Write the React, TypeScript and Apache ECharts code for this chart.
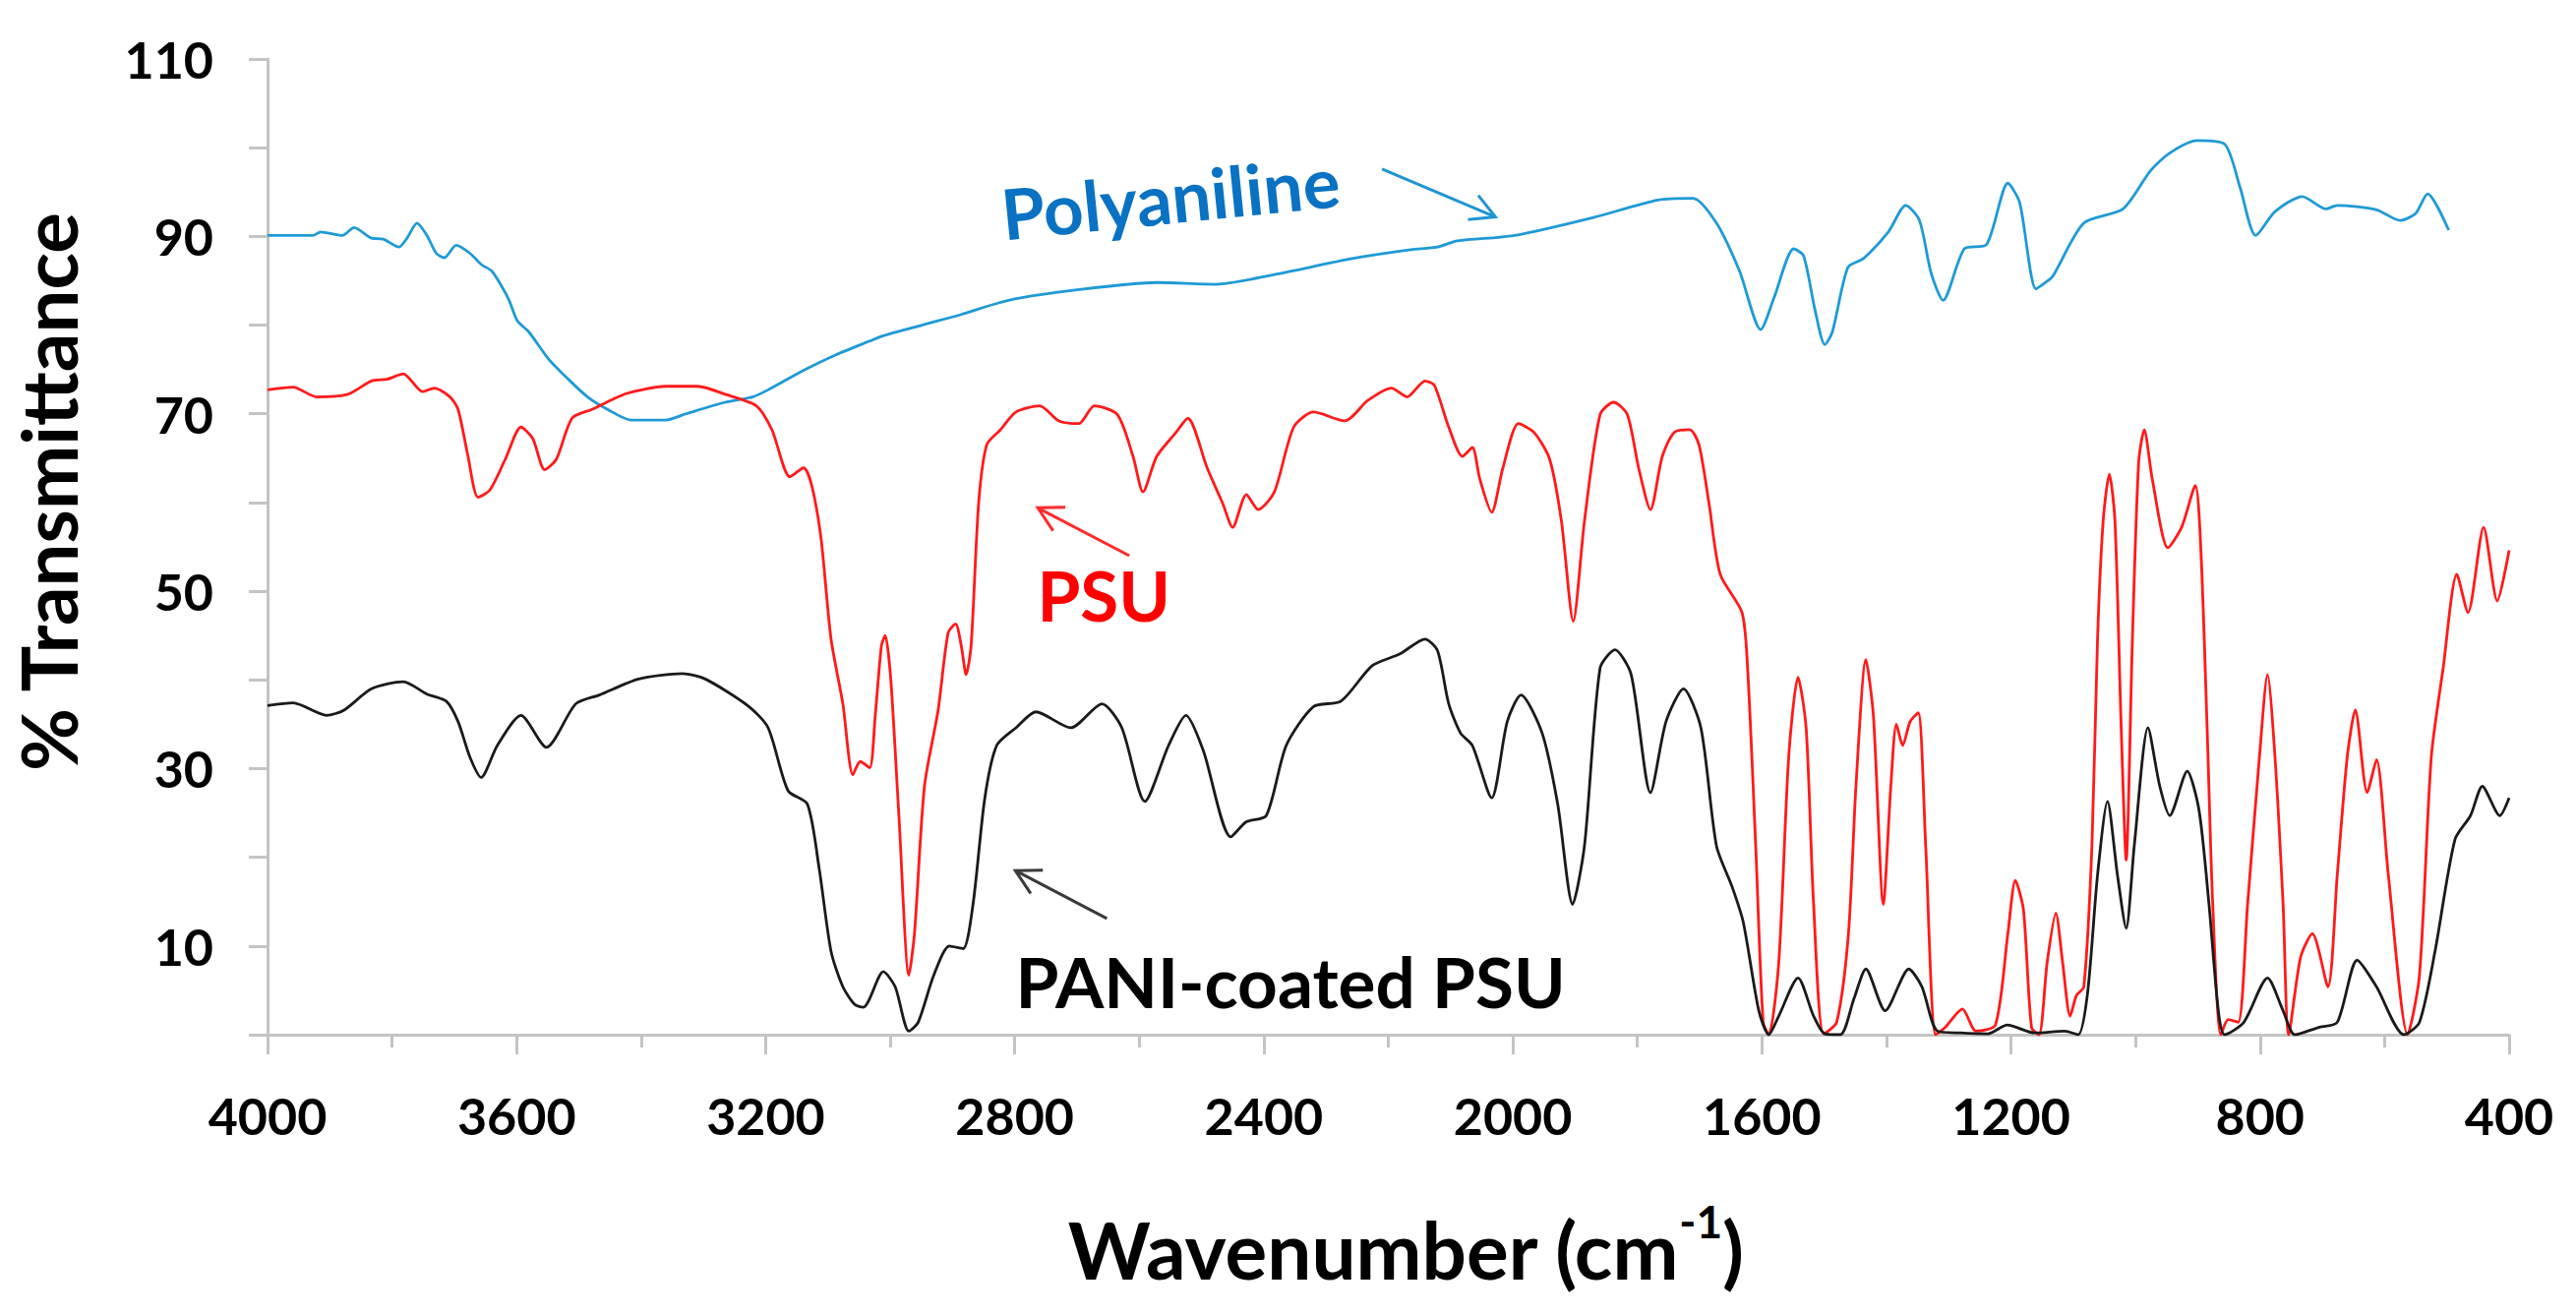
import React, { useEffect, useRef } from "react";
import * as echarts from "echarts";

// ---- Data (wavenumber cm^-1, % transmittance) ----
const polyWn = [4000, 3960, 3927, 3915, 3880, 3861, 3833, 3814, 3789, 3776, 3760, 3744, 3729, 3716, 3697, 3675, 3656, 3640, 3625, 3612, 3599, 3580, 3549, 3517, 3486, 3454, 3416, 3360, 3328, 3265, 3221, 3196, 3139, 3089, 3033, 3011, 2949, 2886, 2810, 2697, 2572, 2477, 2383, 2258, 2164, 2121, 2089, 1997, 1872, 1767, 1711, 1673, 1636, 1602, 1580, 1549, 1533, 1515, 1499, 1487, 1462, 1437, 1397, 1369, 1347, 1328, 1309, 1275, 1239, 1205, 1186, 1160, 1145, 1133, 1083, 1020, 976, 945, 901, 857, 832, 807, 776, 732, 694, 676, 613, 575, 550, 531, 497];
const polyT = [90.1, 90.1, 90.1, 90.5, 90.1, 91.0, 89.8, 89.7, 88.8, 89.8, 91.5, 90.1, 88.1, 87.6, 89.0, 88.1, 86.8, 86.1, 84.5, 82.8, 80.5, 79.2, 76.2, 73.9, 71.9, 70.5, 69.3, 69.3, 70.0, 71.3, 71.9, 72.7, 74.9, 76.6, 78.2, 78.8, 80.0, 81.2, 82.8, 84.0, 84.8, 84.6, 85.7, 87.5, 88.5, 88.8, 89.5, 90.1, 92.1, 94.1, 94.3, 91.5, 86.1, 79.5, 83.2, 88.6, 87.8, 81.8, 77.8, 79.2, 86.5, 87.5, 90.5, 93.5, 91.8, 85.8, 82.8, 88.6, 89.1, 96.0, 93.8, 84.1, 84.8, 85.5, 91.5, 93.1, 97.4, 99.4, 100.8, 100.4, 95.5, 90.1, 92.8, 94.5, 93.1, 93.5, 93.0, 91.8, 92.6, 94.8, 90.7];

const psuWn = [4000, 3959, 3921, 3871, 3833, 3808, 3782, 3751, 3732, 3707, 3694, 3678, 3662, 3643, 3618, 3593, 3574, 3555, 3536, 3511, 3479, 3423, 3360, 3309, 3265, 3215, 3190, 3161, 3139, 3126, 3111, 3095, 3076, 3060, 3048, 3033, 3024, 3014, 3008, 2999, 2986, 2970, 2961, 2945, 2923, 2907, 2895, 2886, 2878, 2870, 2858, 2845, 2823, 2798, 2760, 2729, 2697, 2672, 2635, 2610, 2594, 2572, 2541, 2522, 2491, 2466, 2450, 2428, 2409, 2383, 2352, 2320, 2270, 2233, 2195, 2170, 2141, 2126, 2103, 2081, 2065, 2053, 2034, 2016, 1991, 1966, 1941, 1922, 1903, 1885, 1860, 1838, 1816, 1798, 1779, 1760, 1741, 1716, 1701, 1685, 1667, 1632, 1623, 1610, 1598, 1589, 1573, 1557, 1542, 1529, 1517, 1501, 1480, 1461, 1449, 1433, 1421, 1405, 1393, 1384, 1374, 1362, 1349, 1337, 1321, 1306, 1278, 1256, 1225, 1205, 1193, 1180, 1167, 1155, 1142, 1128, 1117, 1105, 1095, 1083, 1070, 1061, 1052, 1042, 1033, 1023, 1015, 1005, 995, 986, 973, 948, 926, 904, 895, 885, 876, 863, 851, 835, 820, 801, 788, 776, 763, 754, 735, 716, 691, 676, 660, 647, 628, 613, 594, 563, 544, 525, 506, 484, 466, 441, 419, 400];
const psuT = [72.7, 73.0, 71.9, 72.2, 73.7, 73.9, 74.5, 72.5, 72.9, 71.9, 70.5, 65.2, 60.6, 61.4, 64.9, 68.5, 67.2, 63.7, 64.9, 69.5, 70.5, 72.3, 73.1, 73.1, 72.2, 70.9, 68.2, 62.9, 63.9, 61.9, 55.9, 44.6, 37.3, 29.3, 30.8, 30.1, 36.0, 43.9, 45.0, 40.0, 24.7, 6.7, 11.4, 28.0, 36.6, 45.3, 46.3, 43.9, 40.6, 43.9, 59.9, 66.5, 68.2, 70.2, 70.9, 69.2, 68.9, 70.9, 69.9, 65.2, 61.2, 65.2, 67.9, 69.5, 63.9, 59.9, 57.2, 60.9, 59.2, 61.2, 68.5, 70.2, 69.2, 71.5, 72.9, 71.9, 73.7, 73.2, 68.5, 65.2, 66.2, 62.6, 58.9, 63.9, 68.9, 67.9, 64.9, 57.9, 46.6, 57.9, 69.9, 71.3, 69.9, 63.9, 59.2, 65.2, 67.9, 68.2, 66.5, 59.9, 51.9, 47.6, 41.3, 21.3, 1.4, 0, 8.1, 31.3, 40.3, 34.6, 14.7, 0.1, 1.4, 11.4, 28.0, 42.3, 36.0, 14.7, 28.0, 35.0, 32.6, 35.3, 36.3, 21.3, 0, 0.8, 2.9, 0.4, 1.1, 11.4, 17.4, 14.1, 0.8, 0, 8.1, 13.7, 8.1, 2.1, 4.4, 5.4, 21.3, 44.6, 57.9, 63.2, 57.9, 34.6, 19.7, 44.6, 64.5, 68.2, 62.6, 54.9, 57.2, 61.9, 54.6, 34.6, 14.7, 0, 1.7, 1.4, 14.7, 31.3, 40.6, 31.3, 14.7, 0, 8.7, 11.4, 5.4, 18.0, 31.3, 36.6, 27.3, 31.0, 18.0, 0, 6.7, 31.3, 41.3, 51.9, 47.6, 57.2, 48.9, 54.6];

const paniWn = [4000, 3959, 3905, 3877, 3833, 3782, 3744, 3713, 3694, 3675, 3657, 3631, 3593, 3552, 3505, 3467, 3404, 3334, 3297, 3227, 3196, 3164, 3133, 3114, 3095, 3076, 3057, 3043, 3011, 2992, 2970, 2955, 2930, 2905, 2883, 2867, 2848, 2829, 2798, 2766, 2710, 2660, 2628, 2591, 2553, 2525, 2497, 2453, 2428, 2396, 2364, 2320, 2276, 2226, 2182, 2141, 2121, 2103, 2084, 2065, 2034, 2009, 1987, 1953, 1928, 1904, 1885, 1860, 1836, 1810, 1779, 1754, 1726, 1698, 1673, 1648, 1630, 1605, 1589, 1573, 1542, 1517, 1499, 1474, 1452, 1433, 1402, 1364, 1343, 1318, 1281, 1237, 1206, 1162, 1114, 1092, 1077, 1061, 1045, 1029, 1015, 1002, 980, 961, 945, 917, 898, 882, 867, 857, 826, 788, 763, 744, 707, 676, 644, 613, 569, 544, 519, 487, 462, 443, 415, 400];
const paniT = [37.1, 37.4, 36.0, 36.6, 39.0, 39.8, 38.4, 37.6, 35.3, 31.3, 29.0, 32.6, 36.0, 32.4, 37.3, 38.3, 40.1, 40.7, 40.1, 37.0, 34.6, 27.5, 26.0, 18.7, 9.4, 5.4, 3.4, 3.1, 7.1, 5.4, 0.4, 1.4, 6.7, 10.0, 9.7, 14.7, 26.7, 32.6, 34.6, 36.4, 34.6, 37.3, 34.6, 26.3, 32.6, 36.0, 32.0, 22.3, 24.0, 24.7, 32.6, 37.0, 37.6, 41.6, 42.9, 44.6, 43.3, 37.3, 34.0, 32.6, 26.7, 35.3, 38.3, 34.0, 26.0, 14.7, 21.3, 41.3, 43.4, 40.6, 27.3, 35.3, 39.0, 34.6, 21.3, 16.7, 12.7, 2.7, 0, 2.1, 6.4, 2.1, 0.1, 0, 4.1, 7.4, 2.7, 7.4, 5.4, 0.4, 0.2, 0.1, 1.1, 0.2, 0.4, 0, 4.7, 18.0, 26.3, 18.0, 12.0, 21.3, 34.6, 28.0, 24.7, 29.7, 25.3, 14.7, 2.7, 0, 1.4, 6.4, 2.7, 0, 0.8, 1.4, 8.4, 5.4, 0, 1.4, 9.4, 22.0, 24.7, 28.0, 24.7, 26.7];

const seriesNames = ["Polyaniline", "PSU", "PANI-coated PSU"];
const seriesColors = ["#1f9ad6", "#ff1a1a", "#1a1a1a"];

const FONT = "Lato, 'Open Sans', 'Liberation Sans', sans-serif";
const AXIS_GRAY = "#c4c4c4";

const zip = (xs: number[], ys: number[]) => xs.map((x, i) => [x, ys[i]]);

export default function App() {
  const ref = useRef<HTMLDivElement>(null);

  useEffect(() => {
    document.body.style.margin = "0";
    document.body.style.overflow = "hidden";
    const chart = echarts.init(ref.current as HTMLDivElement, null, { renderer: "svg" });

    const lineSeries = [zip(polyWn, polyT), zip(psuWn, psuT), zip(paniWn, paniT)].map((d, i) => ({
      name: seriesNames[i],
      type: "line",
      data: d,
      showSymbol: false,
      symbol: "none",
      smooth: 0.25,
      lineStyle: { color: seriesColors[i], width: 2.8 },
      itemStyle: { color: seriesColors[i] },
    }));

    chart.setOption({
      animation: false,
      backgroundColor: "#ffffff",
      grid: { left: 272, top: 60, width: 2279, height: 992 },
      xAxis: {
        type: "value",
        min: 400,
        max: 4000,
        interval: 400,
        inverse: true,
        axisLine: { show: true, lineStyle: { color: AXIS_GRAY, width: 3 } },
        axisTick: { show: true, length: 20, lineStyle: { color: AXIS_GRAY, width: 3 } },
        minorTick: { show: true, splitNumber: 2, length: 13, lineStyle: { color: AXIS_GRAY, width: 3 } },
        splitLine: { show: false },
        minorSplitLine: { show: false },
        axisLabel: {
          fontFamily: FONT,
          fontSize: 52,
          fontWeight: "bold",
          color: "#000",
          margin: 56,
          formatter: (v: number) => String(Math.round(v)),
        },
      },
      yAxis: {
        type: "value",
        min: 0,
        max: 110,
        interval: 10,
        axisLine: { show: true, lineStyle: { color: AXIS_GRAY, width: 3 } },
        axisTick: { show: true, length: 19, lineStyle: { color: AXIS_GRAY, width: 3 } },
        splitLine: { show: false },
        axisLabel: {
          fontFamily: FONT,
          fontSize: 52,
          fontWeight: "bold",
          color: "#000",
          margin: 55,
          formatter: (v: number) => (Math.round(v) % 20 === 10 ? String(Math.round(v)) : ""),
        },
      },
      series: lineSeries,
    });

    const px = (p: number[]) => chart.convertToPixel({ gridIndex: 0 }, p) as number[];

    const arrow = (from: number[], to: number[], color: string) => {
      const [x0, y0] = px(from);
      const [x1, y1] = px(to);
      const ang = Math.atan2(y1 - y0, x1 - x0);
      const L = 28;
      const a = 0.5;
      const p1 = [x1 - L * Math.cos(ang - a), y1 - L * Math.sin(ang - a)];
      const p2 = [x1 - L * Math.cos(ang + a), y1 - L * Math.sin(ang + a)];
      return [
        { type: "line", shape: { x1: x0, y1: y0, x2: x1, y2: y1 }, style: { stroke: color, lineWidth: 3 } },
        { type: "polyline", shape: { points: [p1, [x1, y1], p2] }, style: { stroke: color, lineWidth: 3, fill: null } },
      ];
    };

    const label = (pos: number[], text: string, color: string, rotation = 0) => {
      const [x, y] = px(pos);
      return {
        type: "text",
        x,
        y,
        rotation,
        style: {
          text,
          fill: color,
          fontFamily: FONT,
          fontSize: 71,
          fontWeight: "bold",
          align: "center",
          verticalAlign: "middle",
        },
      };
    };

    chart.setOption({
      graphic: [
        ...arrow([2210, 97.6], [2028, 92.2], "#1f95d3"),
        ...arrow([2616, 54.0], [2763, 59.4], "#ff2a2a"),
        ...arrow([2652, 13.1], [2799, 18.5], "#3a3a3a"),
        label([2550, 94.5], "Polyaniline", "#0a72c2", 0.1),
        label([2657, 49.6], "PSU", "#ff0000"),
        label([2357, 6.0], "PANI-coated PSU", "#000000"),
        {
          type: "text",
          x: 49,
          y: 500,
          rotation: Math.PI / 2,
          style: {
            text: "% Transmittance",
            fill: "#000",
            fontFamily: FONT,
            fontSize: 78,
            fontWeight: "bold",
            align: "center",
            verticalAlign: "middle",
          },
        },
        {
          type: "text",
          x: 1429,
          y: 1262,
          style: {
            text: "{a|Wavenumber (cm}{s|-1}{a|)}",
            fill: "#000",
            align: "center",
            verticalAlign: "middle",
            rich: {
              a: { fontFamily: FONT, fontSize: 80, fontWeight: "bold", fill: "#000", lineHeight: 96, verticalAlign: "bottom" },
              s: { fontFamily: FONT, fontSize: 46, fontWeight: "bold", fill: "#000", lineHeight: 96, verticalAlign: "top", padding: [4, 0, 0, 0] },
            },
          },
        },
      ],
    });

    return () => chart.dispose();
  }, []);

  return <div ref={ref} style={{ width: 2619, height: 1337 }} />;
}
